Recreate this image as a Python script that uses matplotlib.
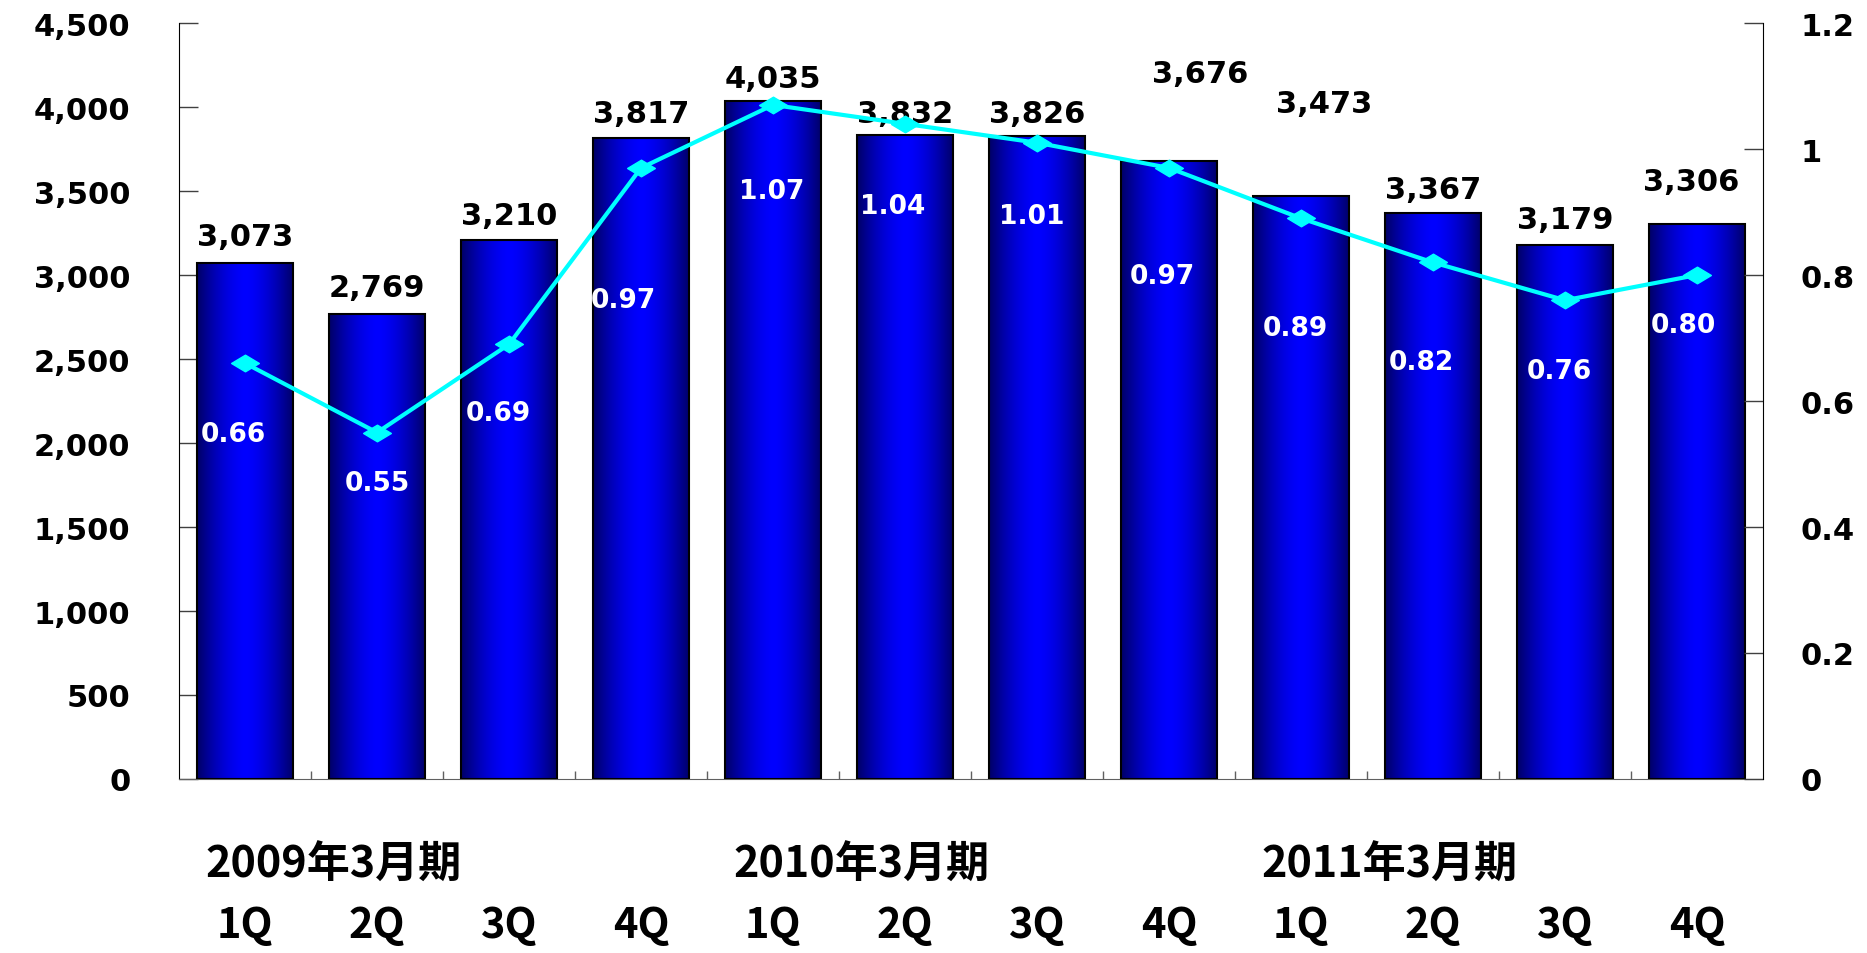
import numpy as np
import matplotlib
matplotlib.use('Agg')
import matplotlib.pyplot as plt
from matplotlib.path import Path
from matplotlib.transforms import blended_transform_factory

# chart data
quarters = ['1Q', '2Q', '3Q', '4Q', '1Q', '2Q', '3Q', '4Q', '1Q', '2Q', '3Q', '4Q']
periods = ['2009年3月期', '2010年3月期', '2011年3月期']
period_start = [0, 4, 8]
sales = [3073, 2769, 3210, 3817, 4035, 3832, 3826, 3676, 3473, 3367, 3179, 3306]
ratio = [0.66, 0.55, 0.69, 0.97, 1.07, 1.04, 1.01, 0.97, 0.89, 0.82, 0.76, 0.80]
left_ticks = [0, 500, 1000, 1500, 2000, 2500, 3000, 3500, 4000, 4500]
right_ticks = [0, 0.2, 0.4, 0.6, 0.8, 1.0, 1.2]
right_labels = ['0', '0.2', '0.4', '0.6', '0.8', '1', '1.2']

# label nudges (pixels) - the original labels were hand placed
bar_nudge = [(0, 26), (0, 26), (0, 24), (0, 24), (0, 23), (0, 22),
             (0, 23), (31, 88), (23, 92), (0, 24), (0, 25), (-6, 42)]
ratio_nudge = [(-12, -71), (0, -50), (-11, -69), (-18, -132), (-1, -86), (-12, -82),
               (-5, -73), (-7, -108), (-6, -110), (-12, -100), (-6, -71), (-14, -50)]

num_font = dict(family='DejaVu Sans', weight='bold')
jp_font = dict(family=['Noto Sans CJK JP', 'DejaVu Sans'], weight='bold')

fig = plt.figure(figsize=(18.67, 9.54), dpi=100)
ax = fig.add_axes((0.0959, 0.1824, 0.8484, 0.7924))
x = np.arange(len(sales))

bars = ax.bar(x, sales, width=0.73, facecolor='none', edgecolor='black',
              linewidth=1.5, zorder=3)

# horizontal gradient inside each bar: navy at the sides, bright blue in the middle
t = np.abs(np.linspace(-1, 1, 128)) ** 1.6
edge = np.array([0.0, 0.0, 0.40])
centre = np.array([0.0, 0.0, 1.0])
grad = (centre[None, :] * (1 - t[:, None]) + edge[None, :] * t[:, None])[None, :, :]
for b in bars:
    im = ax.imshow(grad, extent=[b.get_x(), b.get_x() + b.get_width(), 0, b.get_height()],
                   aspect='auto', zorder=2, interpolation='bilinear')
    im.set_clip_path(b)

for i, b in enumerate(bars):
    dx, dy = bar_nudge[i]
    ax.annotate(f'{sales[i]:,}', (b.get_x() + b.get_width() / 2, b.get_height()),
                xytext=(dx, dy), textcoords='offset pixels', ha='center', va='center',
                fontsize=22, color='black', **num_font)

ax.set_xlim(-0.5, 11.5)
ax.set_ylim(0, 4500)
ax.set_yticks(left_ticks)
ax.set_yticklabels([f'{v:,}' for v in left_ticks], fontsize=22, **num_font)
ax.tick_params(axis='y', direction='in', length=14, width=1, pad=35, colors='#404040',
               labelcolor='black')
ax.set_xticks(np.arange(0.5, 11, 1))
ax.set_xticklabels([])
ax.tick_params(axis='x', direction='in', length=6, width=1, colors='#606060')
ax.spines['top'].set_visible(False)
ax.spines['left'].set_color('black')
ax.spines['bottom'].set_color('#606060')
ax.spines['right'].set_visible(False)

ax2 = ax.twinx()
diamond = Path([(-1, 0), (0, 0.6), (1, 0), (0, -0.6), (-1, 0)],
               [Path.MOVETO, Path.LINETO, Path.LINETO, Path.LINETO, Path.CLOSEPOLY])
ax2.plot(x, ratio, color='#00ffff', linewidth=3, marker=diamond, markersize=20,
         zorder=4)
for i, v in enumerate(ratio):
    dx, dy = ratio_nudge[i]
    ax2.annotate(f'{v:.2f}', (x[i], v), xytext=(dx, dy), textcoords='offset pixels',
                 ha='center', va='center', fontsize=19, color='white', **num_font)
ax2.set_ylim(0, 1.2)
ax2.set_yticks(right_ticks)
ax2.set_yticklabels(right_labels, fontsize=22, **num_font)
ax2.tick_params(axis='y', direction='in', length=14, width=1, pad=27, colors='#404040',
                labelcolor='black')
ax2.spines['top'].set_visible(False)
ax2.spines['left'].set_visible(False)
ax2.spines['bottom'].set_visible(False)
ax2.spines['right'].set_color('black')

# category labels under the axis
trans = blended_transform_factory(ax.transData, ax.transAxes)
for i, q in enumerate(quarters):
    ax.text(i, -0.193, q, transform=trans, ha='center', va='center',
            fontsize=30, color='black', **jp_font)
for p, s in zip(periods, period_start):
    ax.text(s - 0.30, -0.112, p, transform=trans, ha='left', va='center',
            fontsize=31, color='black', **jp_font)

fig.savefig('out.png', dpi=100, facecolor='white')
